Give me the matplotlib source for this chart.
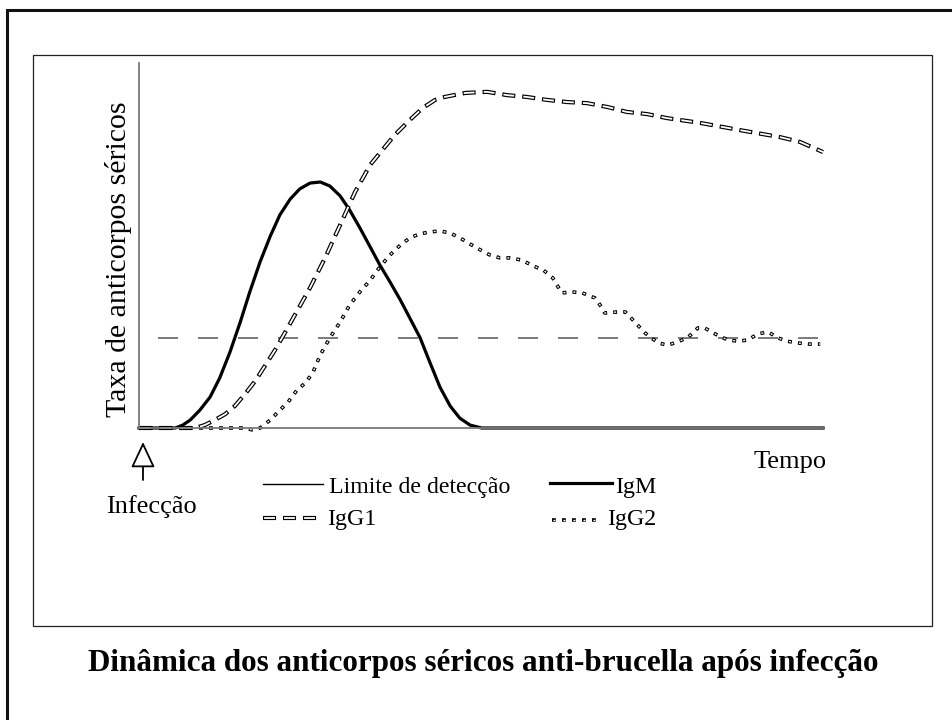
import matplotlib
matplotlib.use("Agg")
import matplotlib.pyplot as plt
from matplotlib.lines import Line2D
from matplotlib.patches import Rectangle, FancyArrowPatch

plt.rcParams['font.family'] = ['Liberation Serif', 'DejaVu Serif']
plt.rcParams['lines.scale_dashes'] = False

# tempo (unidades arbitrarias 0-100) e taxa de anticorpos (0-100)
t_igm = [0, 5.3, 6.4, 7.5, 8.9, 10.4, 11.8, 13.3, 14.8, 16.2, 17.7, 19.2, 20.6,
         22.1, 23.5, 25.0, 26.5, 27.9, 29.4, 30.8, 32.3, 33.8, 35.2, 36.7, 38.2,
         39.6, 41.1, 42.5, 44.0, 45.5, 46.9, 48.4, 50.1, 100]
igm = [0, 0, 0.8, 2.2, 4.9, 8.5, 13.7, 20.8, 29.0, 37.3, 45.5, 52.6, 58.4,
       62.7, 65.5, 67.1, 67.4, 66.3, 63.6, 59.7, 54.8, 49.6, 44.7, 40.0, 35.1,
       30.1, 24.7, 18.1, 11.2, 6.0, 2.7, 0.8, 0, 0]

t_igg1 = [0, 8.2, 9.6, 11.1, 12.6, 14.0, 15.5, 17.0, 18.4, 19.9, 21.3, 22.8, 25.0,
          27.2, 29.4, 31.6, 33.8, 35.2, 37.4, 39.6, 41.5, 43.3, 44.7, 47.7, 50.9,
          53.8, 56.7, 59.6, 62.6, 65.5, 68.6, 71.3, 74.3, 77.2, 82.0, 87.9, 93.7,
          96.6, 100]
igg1 = [0, 0, 0.8, 2.2, 3.8, 6.0, 9.3, 12.9, 17.0, 21.4, 26.0, 31.0, 38.4,
        46.6, 55.6, 64.7, 72.1, 75.3, 80.3, 84.4, 87.7, 89.9, 90.7, 91.8, 92.1,
        91.2, 90.7, 89.9, 89.3, 89.0, 87.9, 86.6, 86.0, 84.9, 83.6, 81.6, 79.7,
        78.4, 75.6]

t_igg2 = [0, 15.5, 16.5, 17.7, 19.2, 20.6, 21.8, 23.1, 24.3, 25.4, 26.5, 27.9,
          29.4, 30.8, 32.3, 33.8, 35.2, 36.7, 38.2, 39.6, 41.1, 42.5, 44.0, 45.5,
          46.9, 48.4, 49.9, 51.3, 52.8, 54.2, 56.0, 57.6, 59.1, 60.5, 61.8, 63.3,
          64.8, 66.7, 67.4, 68.1, 70.0, 71.1, 72.2, 74.0, 75.9, 77.3, 78.8, 80.3,
          81.7, 82.7, 84.5, 86.1, 87.6, 89.0, 90.5, 92.0, 93.4, 94.7, 96.3, 97.8,
          99.6]
igg2 = [0, 0, -0.5, 0, 2.2, 4.9, 7.1, 10.4, 12.3, 15.1, 20.0, 24.7,
        29.0, 33.7, 37.3, 40.5, 44.1, 47.4, 50.1, 52.1, 53.2, 53.7, 54.0, 53.4,
        52.1, 50.4, 48.8, 47.4, 46.6, 46.6, 46.0, 44.4, 43.3, 41.1, 37.0, 37.3,
        37.0, 35.6, 33.7, 31.5, 31.8, 31.8, 29.6, 26.0, 23.3, 22.7, 23.6, 24.9,
        27.4, 27.4, 25.5, 24.1, 23.8, 24.1, 25.8, 26.3, 24.7, 23.8, 23.3, 23.0,
        23.0]

t_limite = [2.8, 100]
limite = [24.7, 24.7]

W, H = 953, 720


def px(x, y):
    # pixel (a partir do canto superior esquerdo) -> fracao da figura
    return x / W, 1 - y / H


fig = plt.figure(figsize=(W / 100, H / 100), dpi=100)

# moldura externa e caixa interna
fig.add_artist(Rectangle(px(7, 740), 1000 / W, 730 / H, transform=fig.transFigure,
                         fill=False, ec='#111111', lw=2.2))
fig.add_artist(Rectangle(px(32.5, 626), 899.5 / W, 571 / H, transform=fig.transFigure,
                         fill=False, ec='#222222', lw=0.9))

ax = fig.add_axes([139 / W, 1 - 428 / H, 684 / W, 365 / H])
ax.set_xlim(0, 100)
ax.set_ylim(0, 100)
for s in ['top', 'right']:
    ax.spines[s].set_visible(False)
for s in ['left', 'bottom']:
    ax.spines[s].set_color('#7a7a7a')
    ax.spines[s].set_linewidth(1.3)
ax.set_xticks([])
ax.set_yticks([])
ax.patch.set_alpha(0)

# estilos de linha
on1, off1, d1 = 9.4, 5.0, 0.8
on2, off2, d2 = 2.8, 4.4, 0.7
dup_out1 = dict(color='black', lw=3.0, ls=(0, (on1, off1)), dash_capstyle='butt')
dup_in1 = dict(color='white', lw=1.3, ls=(on1 + off1 - d1, (on1 - 2 * d1, off1 + 2 * d1)),
               dash_capstyle='butt')
dup_out2 = dict(color='black', lw=2.6, ls=(0, (on2, off2)), dash_capstyle='butt')
dup_in2 = dict(color='white', lw=1.0, ls=(on2 + off2 - d2, (on2 - 2 * d2, off2 + 2 * d2)),
               dash_capstyle='butt')

ax.plot(t_limite, limite, color='#7a7a7a', lw=1.4, ls=(0, (14.4, 14.4)), clip_on=False)
ax.plot(t_igm, igm, color='black', lw=2.3, clip_on=False, solid_joinstyle='round')
ax.plot(t_igg2, igg2, clip_on=False, **dup_out2)
ax.plot(t_igg2, igg2, clip_on=False, **dup_in2)
ax.plot(t_igg1, igg1, clip_on=False, **dup_out1)
ax.plot(t_igg1, igg1, clip_on=False, **dup_in1)

fig.text(*px(119, 259), 'Taxa de anticorpos séricos', fontsize=21.5, rotation=90,
         va='center', ha='center')

# legenda
fs = 17.2


def chave(x0, x1, y, **kw):
    fig.add_artist(Line2D([x0 / W, x1 / W], [1 - y / H, 1 - y / H],
                          transform=fig.transFigure, **kw))


chave(263, 323, 484, color='black', lw=1.0)
fig.text(*px(329, 488), 'Limite de detecção', fontsize=fs, va='center', ha='left')
chave(550, 612, 483, color='black', lw=2.3)
fig.text(*px(615, 488), 'IgM', fontsize=fs, va='center', ha='left')
chave(263, 323, 518, **dup_out1)
chave(263, 323, 518, **dup_in1)
fig.text(*px(327, 519), 'IgG1', fontsize=fs, va='center', ha='left')
chave(552, 601, 520, **dup_out2)
chave(552, 601, 520, **dup_in2)
fig.text(*px(607, 519), 'IgG2', fontsize=fs, va='center', ha='left')

fig.text(*px(790, 462), 'Tempo', fontsize=19, va='center', ha='center')
fig.text(*px(151, 507), 'Infecção', fontsize=19, va='center', ha='center')

seta = FancyArrowPatch(px(143, 480), px(143, 442), transform=fig.transFigure,
                       arrowstyle='-|>,head_length=1.6,head_width=0.75',
                       mutation_scale=10, shrinkA=0, shrinkB=0,
                       fc='white', ec='black', lw=1.3)
fig.add_artist(seta)

fig.text(*px(483, 663), 'Dinâmica dos anticorpos séricos anti-brucella após infecção',
         fontsize=22.4, fontweight='bold', va='center', ha='center')

fig.savefig('out.png', dpi=100)
